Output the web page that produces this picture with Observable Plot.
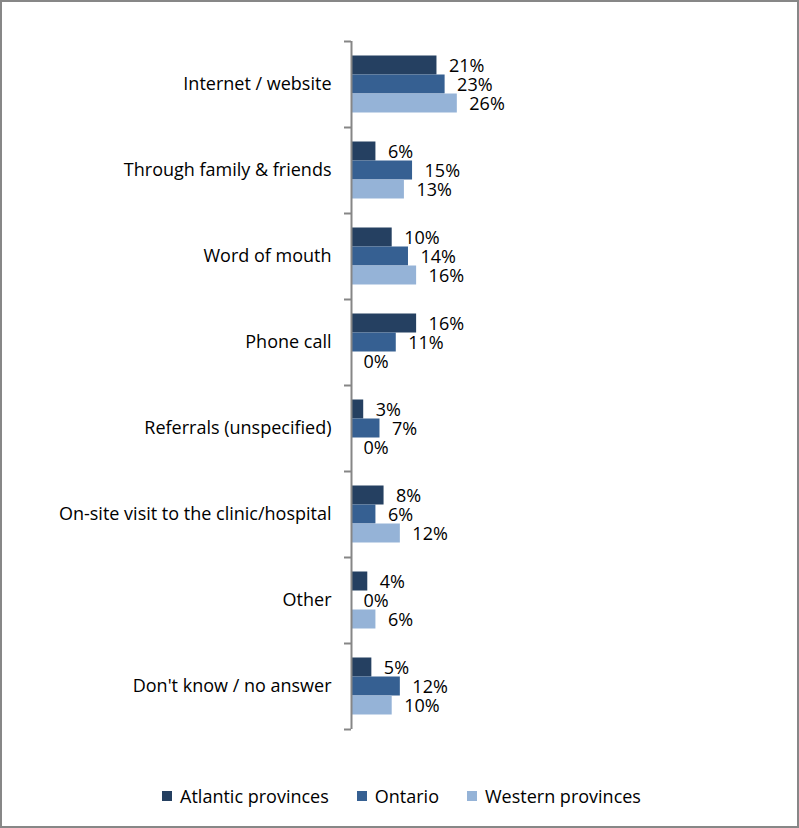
<!DOCTYPE html>
<html><head><meta charset="utf-8">
<script src="https://cdn.jsdelivr.net/npm/d3@7"></script>
<script src="https://cdn.jsdelivr.net/npm/@observablehq/plot@0.6"></script>
<style>
body{margin:0;background:#fff;}
#frame{width:799px;height:828px;box-sizing:border-box;border:2px solid #878787;position:relative;overflow:hidden;font-family:"Open Sans", sans-serif;background:#fff;}
#chart{position:absolute;left:0;top:0;}
#legend{position:absolute;left:0;right:0;top:782px;display:flex;justify-content:center;gap:28px;font-size:18px;line-height:24px;color:#000;padding-left:4px;}
.item{display:flex;align-items:center;gap:8px;}
.sw{width:10px;height:10px;display:inline-block;}
</style></head><body>
<div id="frame"><div id="chart"></div><div id="legend"></div></div>
<script>
const categories = ["Internet / website","Through family & friends","Word of mouth","Phone call","Referrals (unspecified)","On-site visit to the clinic/hospital","Other","Don't know / no answer"];
const seriesNames = ["Atlantic provinces","Ontario","Western provinces"];
const atlantic = [21,6,10,16,3,8,4,5];
const ontario = [23,15,14,11,7,6,0,12];
const western = [26,13,16,0,0,12,6,10];
const colors = ["#254061","#366092","#95B3D7"];

const seriesValues = [atlantic, ontario, western];
const rows = [];
seriesValues.forEach((vals, s) => vals.forEach((v, i) => rows.push({category: categories[i], series: seriesNames[s], si: s, value: v})));

const H = 760, mTop = 39, mBottom = 33;
const step = (H - mTop - mBottom) / categories.length;
const barH = 19;
const axisColor = "#868686";

const marks = [];
seriesNames.forEach((name, s) => {
  const data = rows.filter(d => d.si === s);
  marks.push(Plot.barX(data, {y: "category", x: "value", fill: colors[s], insetTop: (step - barH) / 2, insetBottom: (step - barH) / 2, dy: (s - 1) * barH}));
  marks.push(Plot.text(data, {y: "category", x: "value", text: d => d.value + "%", textAnchor: "start", dx: 12, dy: (s - 1) * barH + 1, fill: "#000", fontSize: 18}));
});
marks.push(Plot.ruleX([0], {stroke: axisColor, strokeWidth: 2}));
marks.push(Plot.ruleY(categories, {y: d => d, x1: 0, x2: 0, insetLeft: -7, dy: -step / 2, stroke: axisColor, strokeWidth: 2}));
marks.push(Plot.ruleY([categories[categories.length - 1]], {y: d => d, x1: 0, x2: 0, insetLeft: -7, dy: step / 2, stroke: axisColor, strokeWidth: 2}));

const chart = Plot.plot({
  width: 795, height: H,
  marginLeft: 349, marginRight: 39, marginTop: mTop, marginBottom: mBottom,
  style: {fontSize: "18px", fontFamily: "'Open Sans', sans-serif", color: "#000", background: "transparent"},
  x: {domain: [0, 100], axis: null},
  y: {domain: categories, padding: 0, tickSize: 0, tickPadding: 20, label: null},
  marks
});
document.getElementById("chart").appendChild(chart);

const legend = document.getElementById("legend");
seriesNames.forEach((name, s) => {
  const it = document.createElement("span");
  it.className = "item";
  it.innerHTML = `<span class="sw" style="background:${colors[s]}"></span><span>${name}</span>`;
  legend.appendChild(it);
});
</script>
</body></html>
